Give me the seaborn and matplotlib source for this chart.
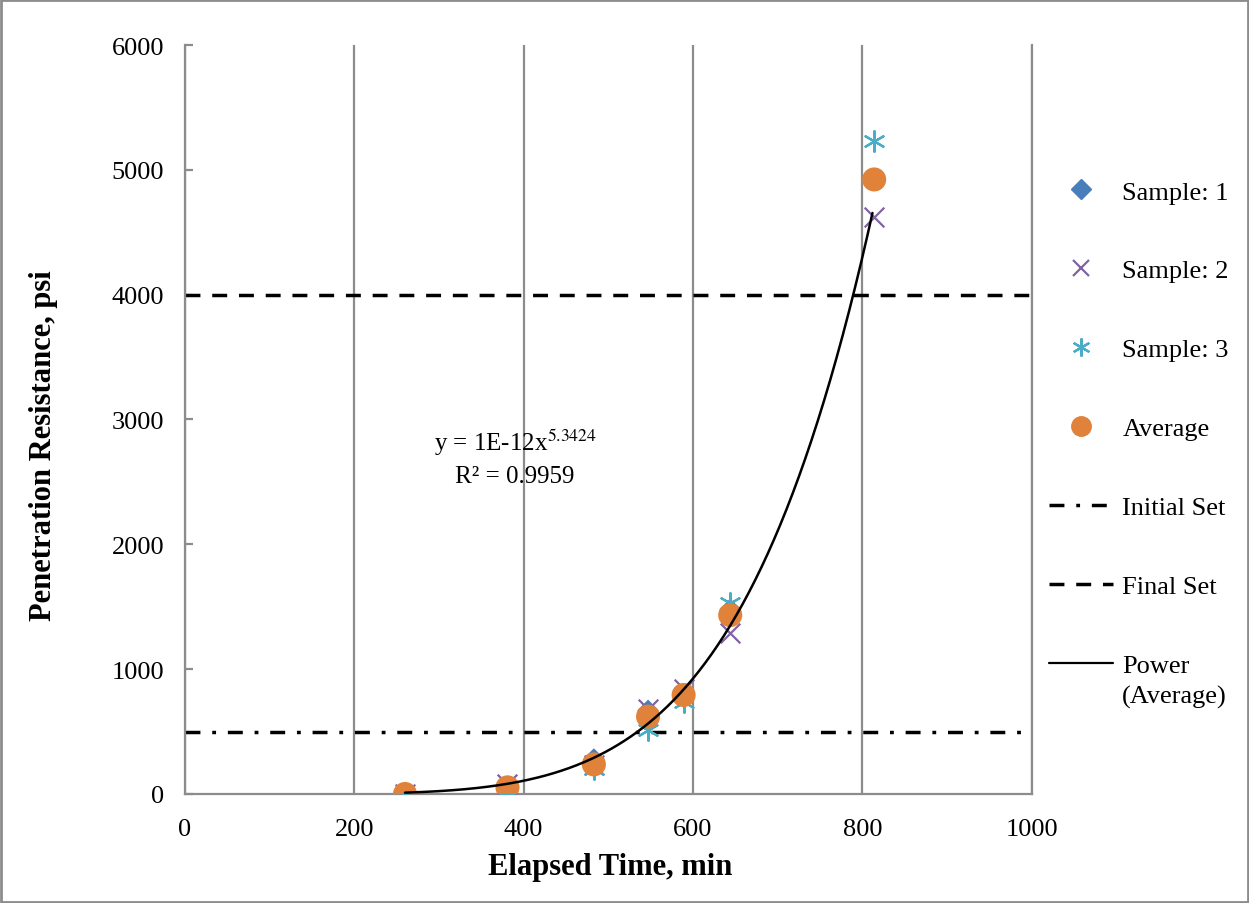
import numpy as np
import pandas as pd
import matplotlib
matplotlib.use("Agg")
import matplotlib.pyplot as plt
from matplotlib.lines import Line2D
import seaborn as sns

# Penetration resistance readings (psi) at each elapsed time (min)
elapsed = [260, 381, 483, 547, 589, 644, 814]
sample_1 = [0, 60, 280, 670, 800, 1480, 4920]
sample_2 = [0, 80, 230, 680, 840, 1290, 4620]
sample_3 = [0, 20, 200, 510, 740, 1530, 5230]
average = [0, 53, 237, 620, 793, 1433, 4923]

initial_set = 500
final_set = 4000
fit_coef = 1.33e-12
fit_exp = 5.3424
fit_r2 = 0.9959

sns.set_style("white")
plt.rcParams["font.family"] = ["Liberation Serif", "DejaVu Serif"]
plt.rcParams["mathtext.fontset"] = "stix"
plt.rcParams["text.color"] = "black"
plt.rcParams["axes.labelcolor"] = "black"

fig = plt.figure(figsize=(12.49, 9.04), dpi=100)
ax = fig.add_axes([0.148, 0.1206, 0.678, 0.8285])

df = pd.DataFrame({"t": elapsed, "s1": sample_1, "s2": sample_2,
                   "s3": sample_3, "avg": average})

c1, c2, c3, c4 = "#4A7EBB", "#8064A2", "#4BACC6", "#E0823A"
grid_c = "#8C8C8C"
dashdot = (4.3, 3.4, 1.1, 3.4)
dashed = (4.3, 3.4)

sns.scatterplot(data=df, x="t", y="s1", ax=ax, marker="D", s=120,
                color=c1, edgecolor="none", zorder=3)
sns.scatterplot(data=df, x="t", y="s2", ax=ax, marker="x", s=200,
                color=c2, linewidth=1.6, zorder=3)
sns.scatterplot(data=df, x="t", y="s3", ax=ax, marker=(6, 2, 0), s=220,
                color=c3, linewidth=1.6, zorder=3)
sns.scatterplot(data=df, x="t", y="avg", ax=ax, marker="o", s=300,
                color=c4, edgecolor="none", zorder=4)

# Power trendline through the averages
tx = np.linspace(elapsed[0], elapsed[-1] - 2, 300)
fit_df = pd.DataFrame({"t": tx, "y": fit_coef * tx ** fit_exp})
sns.lineplot(data=fit_df, x="t", y="y", ax=ax, color="black", lw=1.8,
             zorder=5)

ax.axhline(initial_set, color="black", lw=2.5, dashes=dashdot, zorder=2)
ax.axhline(final_set, color="black", lw=2.5, dashes=dashed, zorder=2)

ax.set_xlim(0, 1000)
ax.set_ylim(0, 6000)
ax.set_xticks(range(0, 1001, 200))
ax.set_yticks(range(0, 6001, 1000))
ax.xaxis.grid(True, color=grid_c, lw=1.6)
ax.yaxis.grid(False)
ax.set_axisbelow(True)
ax.spines["top"].set_visible(False)
for side in ("left", "bottom", "right"):
    ax.spines[side].set_color(grid_c)
    ax.spines[side].set_linewidth(1.6)
ax.tick_params(axis="y", left=True, direction="in", length=6, width=1.6,
               color=grid_c, labelcolor="black", labelsize=19, pad=15)
ax.tick_params(axis="x", bottom=False, labelcolor="black", labelsize=19,
               pad=14)

ax.set_xlabel("Elapsed Time, min", fontsize=22, fontweight="bold")
ax.set_ylabel("Penetration Resistance, psi", fontsize=22, fontweight="bold")
ax.xaxis.set_label_coords(0.502, -0.077)
ax.yaxis.set_label_coords(-0.15, 0.466)

ax.text(390, 2700, "y = 1E-12x$^{%s}$\nR² = %s" % (fit_exp, fit_r2),
        ha="center", va="center", fontsize=18, linespacing=1.5)

handles = [
    Line2D([], [], ls="none", marker="D", color=c1, markersize=10),
    Line2D([], [], ls="none", marker="x", color=c2, markersize=12, mew=1.6),
    Line2D([], [], ls="none", marker=(6, 2, 0), color=c3, markersize=13, mew=1.6),
    Line2D([], [], ls="none", marker="o", color=c4, markersize=14),
    Line2D([], [], color="black", lw=2.5, dashes=dashdot),
    Line2D([], [], color="black", lw=2.5, dashes=dashed),
    Line2D([], [], color="black", lw=1.6),
]
labels = ["Sample: 1", "Sample: 2", "Sample: 3", "Average", "Initial Set",
          "Final Set", "Power"]
leg = fig.legend(handles, labels, loc="upper left",
                 bbox_to_anchor=(0.821, 0.826), frameon=False, fontsize=19,
                 labelspacing=2.1, handlelength=2.4, handletextpad=0.37)

# Second line of the trendline entry, set just under "Power"
fig.canvas.draw()
bb = leg.get_texts()[-1].get_window_extent()
fig.text(bb.x0 / fig.bbox.width, (bb.y0 - 31 + bb.height / 2) / fig.bbox.height,
         "(Average)", fontsize=19, ha="left", va="center")

fig.patches.append(plt.Rectangle((0.001, 0.001), 0.998, 0.998,
                                 transform=fig.transFigure, fill=False,
                                 edgecolor=grid_c, lw=2))

fig.savefig("out.png", dpi=100)
